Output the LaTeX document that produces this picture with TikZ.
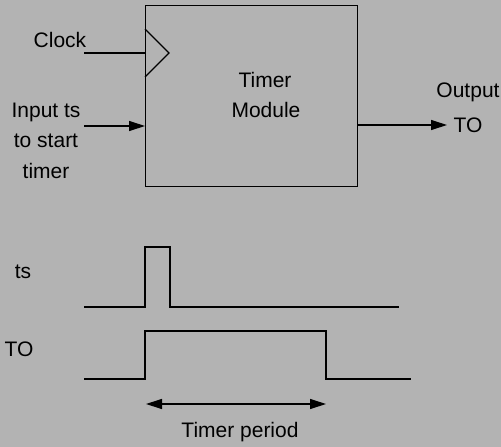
\documentclass[tikz,border=0pt]{standalone}
\usepackage{fontspec}
\setmainfont{Liberation Sans}
\usetikzlibrary{arrows.meta}
\definecolor{bg}{HTML}{B3B3B3}
\begin{document}
\begin{tikzpicture}[x=1pt,y=-1pt,
  line width=1.2pt,
  lbl/.style={font=\fontsize{21}{25}\selectfont, inner sep=0pt, align=center},
  arr/.style={-{Triangle[length=16pt,width=10pt]}},
  wave/.style={line join=miter}]
\fill[bg] (0,0) rectangle (501,447);
\useasboundingbox (0,0) rectangle (501,447);
% module box
\node[draw, minimum width=212pt, minimum height=181pt, inner sep=0pt, anchor=north west] (box) at (145,5) {};
\node[lbl] (t1) at (265,80) {Timer};
\node[lbl] (t2) at (266,110) {Module};
% clock
\coordinate (ck) at (84,53);
\coordinate (ckb) at (145,53);
\draw (ck) -- (ckb);
\coordinate (tri1) at (145,29);
\coordinate (tri2) at (169,53);
\coordinate (tri3) at (145,77);
\draw[line join=miter] (tri1) -- (tri2) -- (tri3);
\node[lbl] (clock) at (60,40) {Clock};
% input
\coordinate (in) at (84,126);
\coordinate (inb) at (145,126);
\draw[arr] (in) -- (inb);
\node[lbl] (in1) at (46,112) {Input ts};
\node[lbl] (in2) at (46,141) {to start};
\node[lbl] (in3) at (46,171) {timer};
% output
\coordinate (ob) at (357,125);
\coordinate (out) at (447,125);
\draw[arr] (ob) -- (out);
\node[lbl] (o1) at (468,92) {Output};
\node[lbl] (o2) at (468,125) {TO};
% waveforms
\node[lbl] (ts) at (23,272) {ts};
\node[lbl] (to) at (19,349) {TO};
\coordinate (ts0) at (84,307);
\coordinate (ts1) at (399,307);
\draw[wave] (ts0) -- (145,307) -- (145,247) -- (170,247) -- (170,307) -- (ts1);
\coordinate (to0) at (84,379);
\coordinate (to1) at (411,379);
\draw[wave] (to0) -- (145,379) -- (145,331) -- (326,331) -- (326,379) -- (to1);
% period
\coordinate (pa) at (146,404);
\coordinate (pb) at (326,404);
\draw[{Triangle[length=16pt,width=10pt]}-{Triangle[length=16pt,width=10pt]}] (pa) -- (pb);
\node[lbl] (per) at (240,432) {Timer period};
\end{tikzpicture}
\end{document}
